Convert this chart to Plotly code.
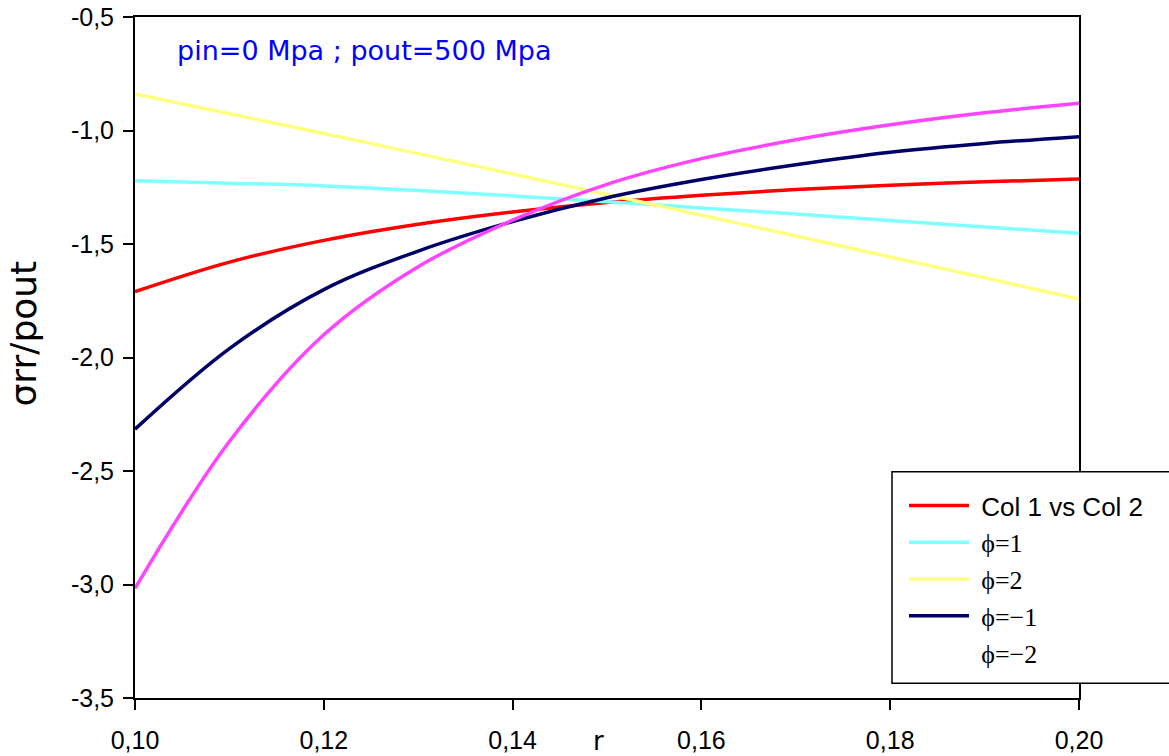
import plotly.graph_objects as go

# ---- data ----
r = [0.10, 0.11, 0.12, 0.13, 0.14, 0.15, 0.16, 0.17, 0.18, 0.19, 0.20]
col1 = [-1.710, -1.580, -1.484, -1.413, -1.359, -1.317, -1.285, -1.260, -1.241, -1.226, -1.214]
phi_p1 = [-1.221, -1.232, -1.244, -1.264, -1.288, -1.314, -1.341, -1.368, -1.396, -1.425, -1.453]
phi_p2 = [-0.839, -0.926, -1.013, -1.102, -1.192, -1.282, -1.373, -1.465, -1.557, -1.649, -1.742]
phi_m1 = [-2.316, -1.961, -1.701, -1.531, -1.401, -1.296, -1.216, -1.151, -1.096, -1.057, -1.027]
phi_m2 = [-3.017, -2.370, -1.900, -1.600, -1.395, -1.237, -1.124, -1.041, -0.975, -0.922, -0.880]

x_tickvals = [0.10, 0.12, 0.14, 0.16, 0.18, 0.20]
x_ticktext = ["0,10", "0,12", "0,14", "0,16", "0,18", "0,20"]
y_tickvals = [-3.5, -3.0, -2.5, -2.0, -1.5, -1.0, -0.5]
y_ticktext = ["-3,5", "-3,0", "-2,5", "-2,0", "-1,5", "-1,0", "-0,5"]

SERIF = "Liberation Serif"
SANS = "Liberation Sans"


def serif(txt):
    return '&nbsp;<span style="font-family:%s">%s</span>' % (SERIF, txt)


fig = go.Figure()
lw = 3.5
spl = dict(shape="spline", smoothing=1.0)
fig.add_trace(go.Scatter(x=r, y=col1, mode="lines", name="&nbsp;Col 1 vs Col 2",
                         line=dict(color="#FF0000", width=lw, **spl)))
fig.add_trace(go.Scatter(x=r, y=phi_p1, mode="lines", name=serif("ϕ=1"),
                         line=dict(color="#80FFFF", width=lw, **spl)))
fig.add_trace(go.Scatter(x=r, y=phi_p2, mode="lines", name=serif("ϕ=2"),
                         line=dict(color="#FFFF80", width=lw, **spl)))
fig.add_trace(go.Scatter(x=r, y=phi_m1, mode="lines", name=serif("ϕ=−1"),
                         line=dict(color="#000066", width=lw, **spl)))
fig.add_trace(go.Scatter(x=r, y=phi_m2, mode="lines", name=serif("ϕ=−2"), showlegend=False,
                         line=dict(color="#FF44FF", width=lw, **spl)))
# legend entry for phi=-2 appears without a line sample in the reference
fig.add_trace(go.Scatter(x=[None], y=[None], mode="lines", name=serif("ϕ=−2"),
                         line=dict(color="rgba(0,0,0,0)", width=lw)))

fig.update_layout(
    width=1169, height=756,
    margin=dict(l=135, r=90, t=17, b=58, autoexpand=False),
    paper_bgcolor="white", plot_bgcolor="white",
    font=dict(family=SANS, size=25, color="black"),
    showlegend=True,
    legend=dict(x=0.8146, y=0.3172, xanchor="left", yanchor="top",
                bgcolor="rgba(0,0,0,0)", borderwidth=0,
                font=dict(family=SANS, size=26, color="black"),
                itemwidth=60, tracegroupgap=0),
    xaxis=dict(range=[0.10, 0.20], tickvals=x_tickvals, ticktext=x_ticktext,
               showgrid=False, zeroline=False, showline=True, mirror=True,
               linecolor="black", linewidth=2, ticks="outside", ticklen=10,
               tickwidth=1.5, tickcolor="black", ticklabelstandoff=9,
               tickfont=dict(family=SANS, size=25, color="black")),
    yaxis=dict(range=[-3.5, -0.5], tickvals=y_tickvals, ticktext=y_ticktext,
               showgrid=False, zeroline=False, showline=True, mirror=True,
               linecolor="black", linewidth=2, ticks="outside", ticklen=10,
               tickwidth=1.5, tickcolor="black", ticklabelstandoff=4,
               tickfont=dict(family=SANS, size=25, color="black")),
    shapes=[
        # legend frame (extends past the right edge, as in the reference)
        dict(type="rect", xref="paper", yref="paper", layer="above",
             x0=0.8019, x1=1.107, y0=0.0216, y1=0.3323,
             line=dict(color="black", width=1.5), fillcolor="white"),
    ],
    annotations=[
        dict(text="pin=0 Mpa ; pout=500 Mpa", xref="paper", yref="paper",
             x=0.042, y=0.9515, xanchor="left", yanchor="middle", showarrow=False,
             font=dict(family="DejaVu Sans", size=27, color="#0000FF")),
        dict(text="σrr/pout", xref="paper", yref="paper", textangle=-90,
             x=-0.1176, y=0.5352, xanchor="center", yanchor="middle", showarrow=False,
             font=dict(family="DejaVu Sans", size=36, color="black")),
        dict(text="r", xref="paper", yref="paper",
             x=0.4915, y=-0.0635, xanchor="center", yanchor="middle", showarrow=False,
             font=dict(family="DejaVu Sans", size=26, color="black")),
    ],
)

fig.write_html("out.html")
